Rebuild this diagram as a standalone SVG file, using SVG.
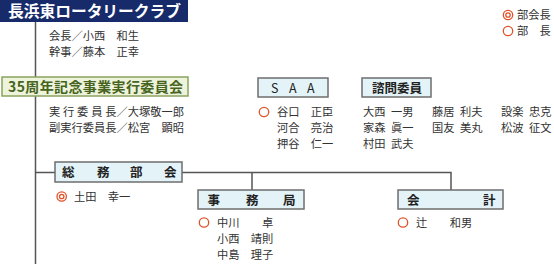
<svg xmlns="http://www.w3.org/2000/svg" width="554" height="264" viewBox="0 0 554 264">
<defs>
<style>
text{font-family:"Noto Sans CJK JP","Noto Sans",sans-serif;}
.nm{font-size:11.25px;fill:#333;}
.bx{fill:#e3f3f7;stroke:#6e6e6e;stroke-width:1.5;}
.bt{font-size:12.5px;font-weight:bold;fill:#222;}
.ln{fill:none;stroke:#555;stroke-width:1.5;}
.mk{fill:none;stroke:#e0522a;stroke-width:1.3;}
</style>
</defs>
<rect width="554" height="264" fill="#fff"/>
<g id="connectors">
<path class="ln" d="M35.5 22V264"/>
<path class="ln" d="M35.5 172.5H451V190"/>
<path class="ln" d="M252 172.5V190"/>
</g>
<g id="legend">
<circle class="mk" cx="508" cy="15" r="4.7"/><circle class="mk" cx="508" cy="15" r="2.2"/>
<text class="nm" x="517" y="19">部会長</text>
<circle class="mk" cx="508" cy="31" r="4.7"/>
<text class="nm" x="517" y="35">部　長</text>
</g>
<g id="club">
<rect x="0" y="0" width="188" height="22" fill="#172b6b"/>
<text x="8" y="17" font-size="15.75" font-weight="bold" fill="#fff" textLength="173">長浜東ロータリークラブ</text>
<text class="nm" x="49" y="40">会長／小西　和生</text>
<text class="nm" x="49" y="56">幹事／藤本　正幸</text>
</g>
<g id="committee35">
<rect x="2" y="77" width="186" height="19" fill="#eef3dc" stroke="#8aa35f" stroke-width="1.5"/>
<text x="8" y="91.5" font-size="14" font-weight="bold" fill="#466420" textLength="175">35周年記念事業実行委員会</text>
<text class="nm" y="116"><tspan x="49">実</tspan><tspan x="63.06">行</tspan><tspan x="77.12">委</tspan><tspan x="91.19">員</tspan><tspan x="105.25">長</tspan><tspan x="116.5">／大塚敬一郎</tspan></text>
<text class="nm" x="49" y="132">副実行委員長／松宮　顕昭</text>
</g>
<g id="saa">
<rect class="bx" x="258" y="78" width="70" height="19"/>
<text y="92.5" font-size="12.5" fill="#222"><tspan x="271">S</tspan><tspan x="289">A</tspan><tspan x="307">A</tspan></text>
<circle class="mk" cx="264" cy="112" r="4.7"/>
<text class="nm" x="277" y="116">谷口　正臣</text>
<text class="nm" x="277" y="132">河合　亮治</text>
<text class="nm" x="277" y="148">押谷　仁一</text>
</g>
<g id="advisors">
<rect class="bx" x="362" y="78" width="69" height="19"/>
<text class="bt" x="372" y="92.5">諮問委員</text>
<text class="nm" y="116"><tspan x="363">大西</tspan><tspan x="391">一男</tspan><tspan x="432">藤居</tspan><tspan x="460">利夫</tspan><tspan x="501">設楽</tspan><tspan x="529">忠克</tspan></text>
<text class="nm" y="132"><tspan x="363">家森</tspan><tspan x="391">眞一</tspan><tspan x="432">国友</tspan><tspan x="460">美丸</tspan><tspan x="501">松波</tspan><tspan x="529">征文</tspan></text>
<text class="nm" y="148"><tspan x="363">村田</tspan><tspan x="391">武夫</tspan></text>
</g>
<g id="soumu">
<rect class="bx" x="55" y="162" width="127" height="20"/>
<text class="bt" y="177"><tspan x="62">総</tspan><tspan x="97">務</tspan><tspan x="130">部</tspan><tspan x="164">会</tspan></text>
<circle class="mk" cx="61.7" cy="196.5" r="4.7"/><circle class="mk" cx="61.7" cy="196.5" r="2.2"/>
<text class="nm" x="74" y="200.5">土田　幸一</text>
</g>
<g id="jimukyoku">
<rect class="bx" x="198" y="190" width="106" height="19"/>
<text class="bt" y="204.5"><tspan x="207.5">事</tspan><tspan x="246">務</tspan><tspan x="283">局</tspan></text>
<circle class="mk" cx="204" cy="222.5" r="4.7"/>
<text class="nm" x="217" y="226.5">中川　　卓</text>
<text class="nm" x="217" y="243">小西　靖則</text>
<text class="nm" x="217" y="259">中島　理子</text>
</g>
<g id="kaikei">
<rect class="bx" x="398" y="190" width="105" height="19"/>
<text class="bt" y="204.5"><tspan x="407">会</tspan><tspan x="483">計</tspan></text>
<circle class="mk" cx="403" cy="222.5" r="4.7"/>
<text class="nm" x="416" y="226.5">辻　　和男</text>
</g>
</svg>
